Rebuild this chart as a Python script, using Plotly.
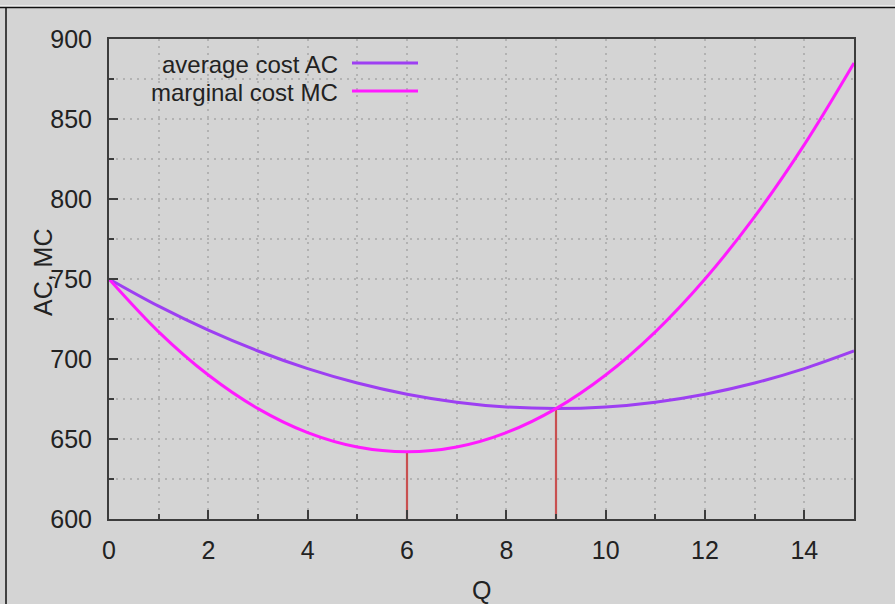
import plotly.graph_objects as go

# Output quantity
q = [0, 1, 2, 3, 4, 5, 6, 7, 8, 9, 10, 11, 12, 13, 14, 15]
# Average cost per unit
ac = [750, 733, 718, 705, 694, 685, 678, 673, 670, 669, 670, 673, 678, 685, 694, 705]
# Marginal cost
mc = [750, 717, 690, 669, 654, 645, 642, 645, 654, 669, 690, 717, 750, 789, 834, 885]

# Drop lines: minimum of MC and minimum of AC (where MC = AC)
q_min_mc = 6
mc_min = 642
q_min_ac = 9
ac_min = 669

x_ticks = [0, 2, 4, 6, 8, 10, 12, 14]
y_ticks = [600, 650, 700, 750, 800, 850, 900]

W, H = 895, 604
ML, MR, MT, MB = 109, 41, 39, 85
PW, PH = W - ML - MR, H - MT - MB

BG = "#d4d4d4"
AC_COLOR = "#9d3ff2"
MC_COLOR = "#ff1aff"
DROP_COLOR = "#c85050"
FRAME = "#3c3c3c"
GRID = "#b2b2b2"
TEXT = "#222222"
FONT = "Liberation Sans"


def px(xp):
    return (xp - ML) / PW


def py(yp):
    return (H - MB - yp) / PH


fig = go.Figure()

fig.add_trace(go.Scatter(x=[q_min_mc, q_min_mc], y=[600, mc_min], mode="lines",
                         line=dict(color=DROP_COLOR, width=2.2), showlegend=False))
fig.add_trace(go.Scatter(x=[q_min_ac, q_min_ac], y=[600, ac_min], mode="lines",
                         line=dict(color=DROP_COLOR, width=2.2), showlegend=False))
fig.add_trace(go.Scatter(x=q, y=ac, mode="lines", name="average cost AC",
                         line=dict(color=AC_COLOR, width=3, shape="spline", smoothing=1.0),
                         showlegend=False))
fig.add_trace(go.Scatter(x=q, y=mc, mode="lines", name="marginal cost MC",
                         line=dict(color=MC_COLOR, width=3, shape="spline", smoothing=1.0),
                         showlegend=False))

# Legend: right-aligned text followed by a line sample
legend_rows = [("average cost AC", AC_COLOR, 64), ("marginal cost MC", MC_COLOR, 92)]
annotations = []
shapes = []
for label, color, yy in legend_rows:
    annotations.append(dict(x=px(340), y=py(yy), xref="paper", yref="paper",
                            text=label, showarrow=False, xanchor="right", yanchor="middle",
                            font=dict(family=FONT, size=24, color=TEXT)))
    shapes.append(dict(type="line", xref="paper", yref="paper",
                       x0=px(352), x1=px(418), y0=py(yy - 1), y1=py(yy - 1),
                       line=dict(color=color, width=3)))

# Axis titles
annotations.append(dict(x=px(481), y=py(590), xref="paper", yref="paper", text="Q",
                        showarrow=False, xanchor="center", yanchor="middle",
                        font=dict(family=FONT, size=25, color=TEXT)))
annotations.append(dict(x=px(43), y=py(272), xref="paper", yref="paper", text="AC, MC",
                        showarrow=False, xanchor="center", yanchor="middle", textangle=-90,
                        font=dict(family=FONT, size=25, color=TEXT)))

# Window-like border lines around the figure
shapes.append(dict(type="line", xref="paper", yref="paper",
                   x0=px(0), x1=px(W), y0=py(6), y1=py(6),
                   line=dict(color="#ffffff", width=1)))
shapes.append(dict(type="line", xref="paper", yref="paper",
                   x0=px(0), x1=px(W), y0=py(7.5), y1=py(7.5),
                   line=dict(color="#111111", width=1.5)))
shapes.append(dict(type="line", xref="paper", yref="paper",
                   x0=px(6), x1=px(6), y0=py(8), y1=py(H),
                   line=dict(color="#111111", width=1.5)))

fig.update_layout(
    width=W, height=H,
    margin=dict(l=ML, r=MR, t=MT, b=MB),
    paper_bgcolor=BG, plot_bgcolor=BG,
    font=dict(family=FONT, size=25, color=TEXT),
    annotations=annotations,
    shapes=shapes,
    showlegend=False,
)

grid_dash = "2px,5px"

fig.update_xaxes(
    range=[0, 15], tickvals=x_ticks, ticktext=[str(v) for v in x_ticks],
    ticks="inside", ticklen=9, tickwidth=2, tickcolor=FRAME,
    showline=True, linecolor=FRAME, linewidth=2, mirror=True,
    showgrid=True, gridcolor=GRID, griddash=grid_dash, gridwidth=1.5,
    zeroline=False, ticklabelstandoff=8,
    minor=dict(dtick=1, ticks="inside", ticklen=5, tickwidth=2, tickcolor=FRAME,
               showgrid=True, gridcolor=GRID, griddash=grid_dash, gridwidth=1.5),
    tickfont=dict(family=FONT, size=25, color=TEXT),
)

fig.update_yaxes(
    range=[600, 900], tickvals=y_ticks, ticktext=[str(v) for v in y_ticks],
    ticks="inside", ticklen=9, tickwidth=2, tickcolor=FRAME,
    showline=True, linecolor=FRAME, linewidth=2, mirror=True,
    showgrid=True, gridcolor=GRID, griddash=grid_dash, gridwidth=1.5,
    zeroline=False, ticklabelstandoff=10,
    minor=dict(dtick=25, ticks="inside", ticklen=5, tickwidth=2, tickcolor=FRAME,
               showgrid=True, gridcolor=GRID, griddash=grid_dash, gridwidth=1.5),
    tickfont=dict(family=FONT, size=25, color=TEXT),
)

fig.write_html("out.html")
